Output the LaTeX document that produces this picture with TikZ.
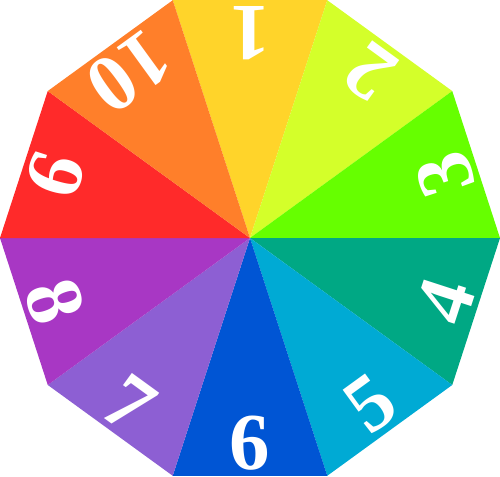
\documentclass[tikz,border=0pt]{standalone}
\usepackage{fontspec}
\setmainfont{Liberation Serif}
\usepackage{tikz}
\usetikzlibrary{calc}

\definecolor{sec1}{HTML}{FFD42A}
\definecolor{sec2}{HTML}{D4FF2A}
\definecolor{sec3}{HTML}{66FF00}
\definecolor{sec4}{HTML}{00A884}
\definecolor{sec5}{HTML}{00AAD4}
\definecolor{sec6}{HTML}{0055D4}
\definecolor{sec7}{HTML}{8D5FD3}
\definecolor{sec8}{HTML}{A837C4}
\definecolor{sec9}{HTML}{FF2A2A}
\definecolor{sec10}{HTML}{FF7F2A}

\begin{document}
\begin{tikzpicture}[
		sector/.style={line join=round},
		num/.style={text=white, inner sep=0pt, font=\bfseries\fontsize{46}{46}\selectfont}
		]
		
		% --------------------------------------------------
		% Frame
		% --------------------------------------------------
		\useasboundingbox (-5,-4.76) rectangle (5,4.76);
		\coordinate (O) at (0,0);
		
		% --------------------------------------------------
		% Ten sectors of the decagon, with their numbers
		% --------------------------------------------------
		\foreach \k/\ang in {1/90,2/54,3/18,4/-18,5/-54,6/-90,7/-126,8/-162,9/162,10/126}
		{
			\coordinate (A\k) at (\ang-18:5cm);
			\coordinate (B\k) at (\ang+18:5cm);
			\fill[sector, sec\k] (O) -- (A\k) -- (B\k) -- cycle;
			\node[num, rotate=\ang+90] (N\k) at (\ang:4.1cm) {\k};
		}
		
	\end{tikzpicture}
\end{document}
